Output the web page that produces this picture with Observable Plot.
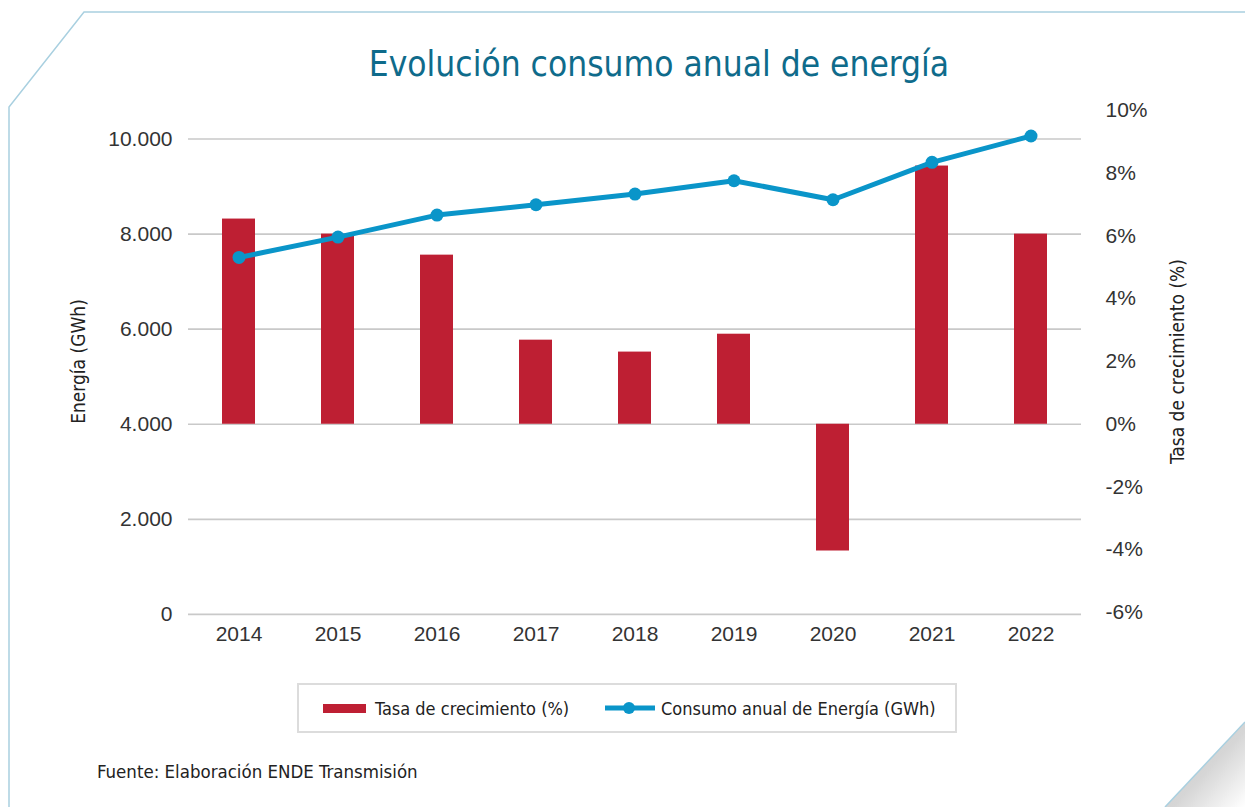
<!DOCTYPE html>
<html>
<head>
<meta charset="utf-8">
<script src="https://cdn.jsdelivr.net/npm/d3@7"></script>
<script src="https://cdn.jsdelivr.net/npm/@observablehq/plot@0.6"></script>
<style>
  html, body { margin: 0; padding: 0; background: #fff; }
  #wrap { position: relative; width: 1245px; height: 807px; overflow: hidden; background: #fff; }
  #frame { position: absolute; left: 0; top: 0; }
  .cond { font-family: "Liberation Sans Narrow", "DejaVu Sans Condensed", "Roboto Condensed", "Arial Narrow", sans-serif; }
  #title { position: absolute; left: 0; width: 1318px; top: 42px; text-align: center; color: #0f6b8b; font-size: 35px; line-height: 44px; }
  #chart { position: absolute; left: 0; top: 80px; }
  #legend { position: absolute; left: 297px; top: 683px; width: 656px; height: 46px; border: 2px solid #dcdcdc; box-sizing: content-box; }
  .lg { position: absolute; top: 0; height: 46px; display: flex; align-items: center; font-size: 18px; color: #222; white-space: nowrap; }
  #caption { position: absolute; left: 97px; top: 760px; font-size: 18.5px; color: #222; line-height: 24px; }
</style>
</head>
<body>
<div id="wrap">
  <svg id="frame" width="1245" height="807">
    <defs>
      <linearGradient id="fold" x1="0" y1="0" x2="1" y2="1">
        <stop offset="0" stop-color="#c8c8c8"/>
        <stop offset="0.55" stop-color="#d6d6d6"/>
        <stop offset="1" stop-color="#ffffff"/>
      </linearGradient>
    </defs>
    <polyline points="9,807 9,107 84,12 1245,12" fill="none" stroke="#a9d0e0" stroke-width="1.5"/>
    <polygon points="1245,722 1245,807 1165,807" fill="url(#fold)"/>
    <line x1="1245" y1="722" x2="1165" y2="807" stroke="#a9d0e0" stroke-width="1.5"/>
  </svg>
  <div id="title" class="cond">Evolución consumo anual de energía</div>
  <div id="chart"></div>
  <div id="legend" class="cond">
    <div class="lg" style="left:24px;"><span style="display:inline-block;width:43px;height:9px;background:#be1f33;margin-right:9px;"></span>Tasa de crecimiento (%)</div>
    <div class="lg" style="left:306px;"><svg width="50" height="14" style="margin-right:6px;"><line x1="0" y1="7" x2="50" y2="7" stroke="#0a95c9" stroke-width="5"/><circle cx="24" cy="7" r="6" fill="#0a95c9"/></svg>Consumo anual de Energía (GWh)</div>
  </div>
  <div id="caption" class="cond">Fuente: Elaboración ENDE Transmisión</div>
</div>
<script>
// ---- data ----
const years = ["2014", "2015", "2016", "2017", "2018", "2019", "2020", "2021", "2022"];
const energyGWh = [7509, 7937, 8400, 8617, 8842, 9122, 8722, 9509, 10063];
const growthPct = [6.54, 6.06, 5.39, 2.68, 2.30, 2.87, -4.04, 8.23, 6.06];
const leftTicks = [0, 2000, 4000, 6000, 8000, 10000];
const rightTicksPct = [-6, -4, -2, 0, 2, 4, 6, 8, 10];

// secondary axis mapping: 0% at 4.000 GWh, 1% = 660 GWh
const PCT_ZERO = 4000, PCT_UNIT = 660;
const pctToE = p => PCT_ZERO + p * PCT_UNIT;

const rows = years.map((y, i) => ({year: y, energy: energyGWh[i], pct: growthPct[i]}));
const esFmt = d3.formatLocale({decimal: ",", thousands: ".", grouping: [3], currency: ["", ""]}).format(",d");

const tickFont = "Liberation Sans, Roboto, Arial, sans-serif";
const condFont = "Liberation Sans Narrow, DejaVu Sans Condensed, Roboto Condensed, Arial Narrow, sans-serif";

const chart = Plot.plot({
  width: 1245,
  height: 580,
  marginTop: 30,
  marginBottom: 48,
  marginLeft: 188,
  marginRight: 164,
  style: {fontFamily: tickFont, fontSize: "21px", color: "#333", background: "transparent"},
  x: {type: "band", domain: years, padding: 0.67, paddingOuter: 0.335},
  y: {domain: [pctToE(-6), pctToE(10)]},
  marks: [
    Plot.ruleY(leftTicks, {stroke: "#c9c9c9", strokeWidth: 1.6}),
    Plot.barY(rows, {x: "year", y1: () => PCT_ZERO, y2: d => pctToE(d.pct), fill: "#be1f33"}),
    Plot.lineY(rows, {x: "year", y: "energy", stroke: "#0a95c9", strokeWidth: 5, strokeLinejoin: "round"}),
    Plot.dot(rows, {x: "year", y: "energy", r: 6.5, fill: "#0a95c9"}),
    Plot.axisX({anchor: "bottom", tickSize: 0, tickPadding: 14, label: null, fontSize: 21, fill: "#333"}),
    Plot.axisY({anchor: "left", ticks: leftTicks, tickFormat: esFmt, tickSize: 0, tickPadding: 16, label: null, fontSize: 21, fill: "#333"}),
    Plot.axisY({anchor: "right", ticks: rightTicksPct.map(pctToE), tickFormat: e => Math.round((e - PCT_ZERO) / PCT_UNIT) + "%", tickSize: 0, tickPadding: 24, label: null, fontSize: 21, fill: "#333"}),
    Plot.text(["Energía (GWh)"], {frameAnchor: "left", dx: -110, rotate: -90, textAnchor: "middle", fontSize: 19, fontFamily: condFont, fill: "#222"}),
    Plot.text(["Tasa de crecimiento (%)"], {frameAnchor: "right", dx: 96, rotate: -90, textAnchor: "middle", fontSize: 19, fontFamily: condFont, fill: "#222"})
  ]
});
document.getElementById("chart").appendChild(chart);
</script>
</body>
</html>
